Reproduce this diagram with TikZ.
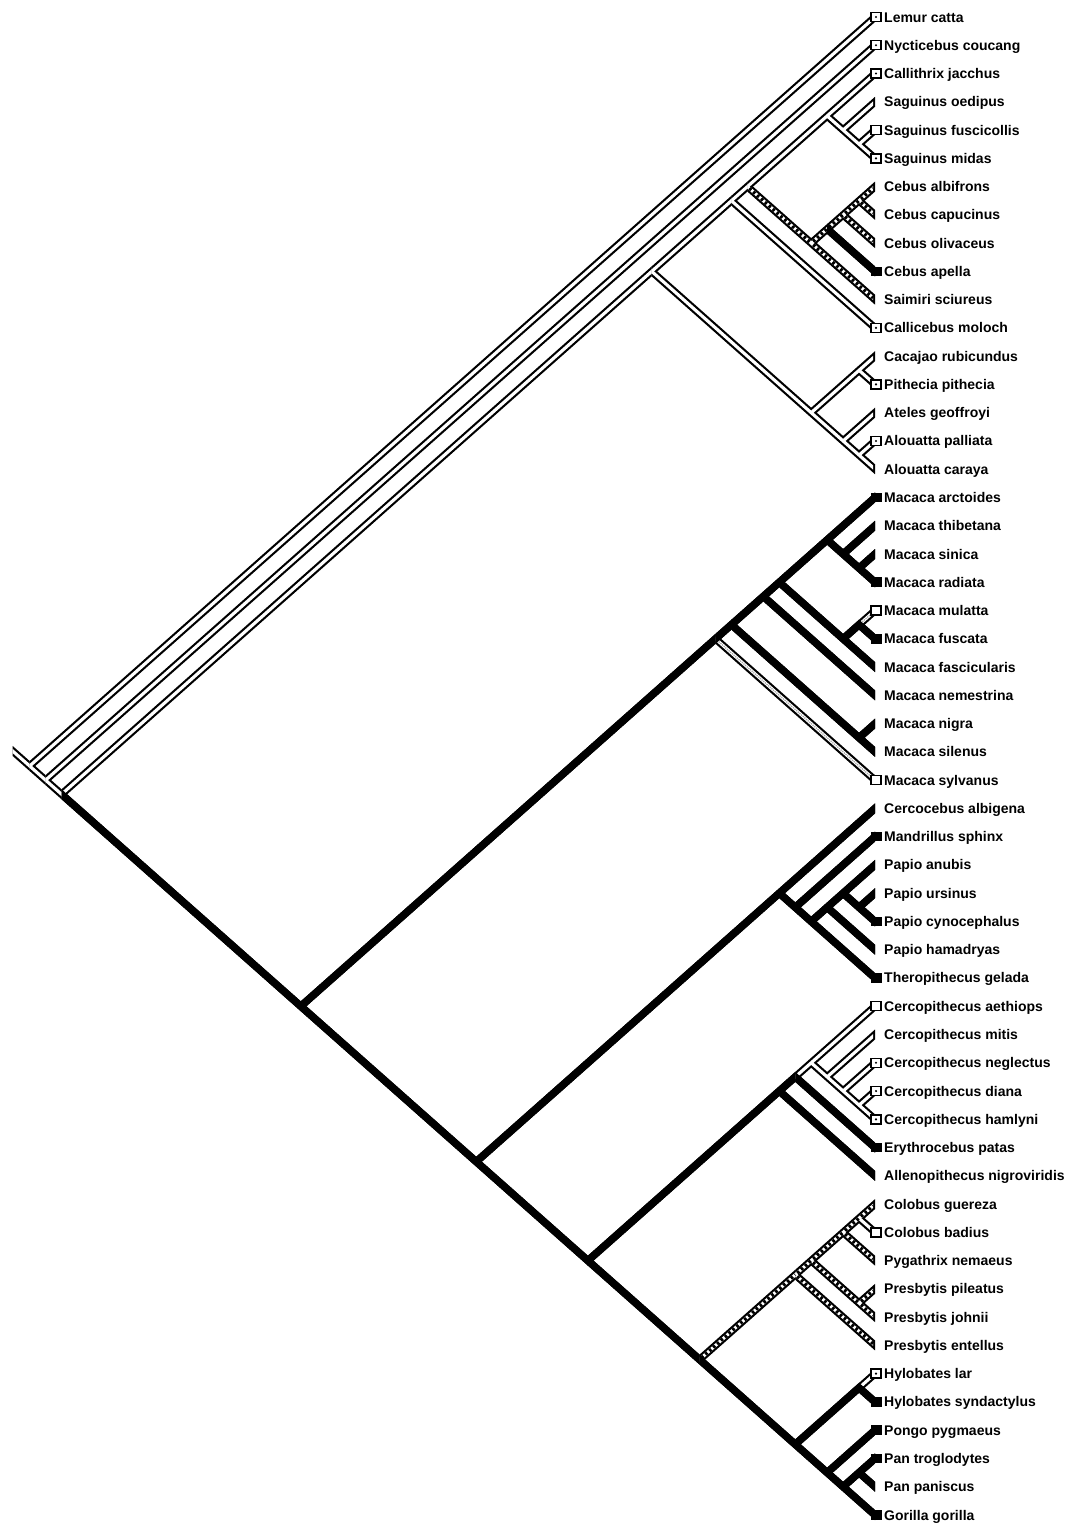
\documentclass[tikz,border=0pt]{standalone}
\usepackage{fontspec}
\setmainfont{Liberation Sans}
\usetikzlibrary{calc}

% band with vertical ends: #1 command, #2 from, #3 to, #4 half height
\newcommand\band[4]{#1 ($(#2)+(0,-#4)$) -- ($(#3)+(0,-#4)$) -- ($(#3)+(0,#4)$) -- ($(#2)+(0,#4)$) -- cycle;}
% clade node = crossing of the lines from its first and last leaf
\newcommand\clade[3]{\coordinate (#1) at ({875-28.264*((#3)-(#2))/1.772},{17+28.264*((#2)+(#3))/2});}
\newcommand\B[4]{\csname X#1\endcsname{#2}{#3}{#4}}
\newcommand\Xw{}\newcommand\Xb{}\newcommand\Xh{}\newcommand\Xg{}

\newcommand\treebranches{%
\B{w}{root}{rs}{0pt}
\B{w}{root}{t0}{2.6pt}
\B{w}{root}{n1}{0pt}
\B{w}{n1}{t1}{2.6pt}
\B{w}{n1}{anth}{0pt}
\B{w}{anth}{nwm}{0pt}
\B{b}{anth}{cat}{0pt}
\B{w}{nwm}{k2k11}{0pt}
\B{w}{nwm}{k12k16}{0pt}
\B{w}{k2k11}{k2k10}{0pt}
\B{w}{k2k11}{t11}{2.6pt}
\B{w}{k2k10}{k2k5}{0pt}
\B{h}{k2k10}{k6k10}{0pt}
\B{w}{k2k5}{t2}{2.6pt}
\B{w}{k2k5}{sag}{0pt}
\B{w}{sag}{t3}{2.6pt}
\B{w}{sag}{k4k5}{0pt}
\B{w}{k4k5}{t4}{2.6pt}
\B{w}{k4k5}{t5}{2.6pt}
\B{h}{k6k10}{ceb}{0pt}
\B{h}{k6k10}{t10}{2.6pt}
\B{h}{ceb}{k6k8}{0pt}
\B{b}{ceb}{t9}{2.6pt}
\B{h}{k6k8}{k6k7}{0pt}
\B{h}{k6k8}{t8}{2.6pt}
\B{h}{k6k7}{t6}{2.6pt}
\B{h}{k6k7}{t7}{2.6pt}
\B{w}{k12k16}{k12k13}{0pt}
\B{w}{k12k16}{k14k16}{0pt}
\B{w}{k12k13}{t12}{2.6pt}
\B{w}{k12k13}{t13}{2.6pt}
\B{w}{k14k16}{t14}{2.6pt}
\B{w}{k14k16}{k15k16}{0pt}
\B{w}{k15k16}{t15}{2.6pt}
\B{w}{k15k16}{t16}{2.6pt}
\B{b}{cat}{mac}{0pt}
\B{b}{cat}{k28k53}{0pt}
\B{b}{mac}{k17k26}{0pt}
\B{g}{mac}{t27}{2.6pt}
\B{b}{k17k26}{k17k24}{0pt}
\B{b}{k17k26}{k25k26}{0pt}
\B{b}{k25k26}{t25}{2.6pt}
\B{b}{k25k26}{t26}{2.6pt}
\B{b}{k17k24}{k17k23}{0pt}
\B{b}{k17k24}{t24}{2.6pt}
\B{b}{k17k23}{k17k20}{0pt}
\B{b}{k17k23}{k21k23}{0pt}
\B{b}{k17k20}{t17}{2.6pt}
\B{b}{k17k20}{k18k20}{0pt}
\B{b}{k18k20}{t18}{2.6pt}
\B{b}{k18k20}{k19k20}{0pt}
\B{b}{k19k20}{t19}{2.6pt}
\B{b}{k19k20}{t20}{2.6pt}
\B{b}{k21k23}{k21k22}{0pt}
\B{b}{k21k23}{t23}{2.6pt}
\B{g}{k21k22}{t21}{2.6pt}
\B{b}{k21k22}{t22}{2.6pt}
\B{b}{k28k53}{k28k34}{0pt}
\B{b}{k28k53}{k35k53}{0pt}
\B{b}{k28k34}{t28}{2.6pt}
\B{b}{k28k34}{k29k34}{0pt}
\B{b}{k29k34}{t29}{2.6pt}
\B{b}{k29k34}{k30k34}{0pt}
\B{b}{k30k34}{pap}{0pt}
\B{b}{k30k34}{t34}{2.6pt}
\B{b}{pap}{k30k32}{0pt}
\B{b}{pap}{t33}{2.6pt}
\B{b}{k30k32}{t30}{2.6pt}
\B{b}{k30k32}{k31k32}{0pt}
\B{b}{k31k32}{t31}{2.6pt}
\B{b}{k31k32}{t32}{2.6pt}
\B{b}{k35k53}{k35k41}{0pt}
\B{b}{k35k53}{k42k53}{0pt}
\B{b}{k35k41}{k35k40}{0pt}
\B{b}{k35k41}{t41}{2.6pt}
\B{w}{k35k40}{cer}{0pt}
\B{b}{k35k40}{t40}{2.6pt}
\B{w}{cer}{t35}{2.6pt}
\B{w}{cer}{k36k39}{0pt}
\B{w}{k36k39}{t36}{2.6pt}
\B{w}{k36k39}{k37k39}{0pt}
\B{w}{k37k39}{t37}{2.6pt}
\B{w}{k37k39}{k38k39}{0pt}
\B{w}{k38k39}{t38}{2.6pt}
\B{w}{k38k39}{t39}{2.6pt}
\B{h}{k42k53}{col}{0pt}
\B{b}{k42k53}{hom}{0pt}
\B{h}{col}{k42k46}{0pt}
\B{h}{col}{t47}{2.6pt}
\B{h}{k42k46}{k42k44}{0pt}
\B{h}{k42k46}{k45k46}{0pt}
\B{h}{k42k44}{k42k43}{0pt}
\B{h}{k42k44}{t44}{2.6pt}
\B{h}{k42k43}{t42}{2.6pt}
\B{w}{k42k43}{t43}{2.6pt}
\B{h}{k45k46}{t45}{2.6pt}
\B{h}{k45k46}{t46}{2.6pt}
\B{b}{hom}{hyl}{0pt}
\B{b}{hom}{k50k53}{0pt}
\B{w}{hyl}{t48}{2.6pt}
\B{b}{hyl}{t49}{2.6pt}
\B{b}{k50k53}{t50}{2.6pt}
\B{b}{k50k53}{k51k53}{0pt}
\B{b}{k51k53}{k51k52}{0pt}
\B{b}{k51k53}{t53}{2.6pt}
\B{b}{k51k52}{t51}{2.6pt}
\B{b}{k51k52}{t52}{2.6pt}
}

\begin{document}
\begin{tikzpicture}[x=1pt,y=-1pt,
  lab/.style={anchor=base west, inner sep=0pt, font=\fontsize{14}{16}\selectfont\bfseries},
  wbox/.style={draw=black, line width=1.4pt, fill=white}]
\fill[white] (0,0) rectangle (1081,1527);
\useasboundingbox (0,0) rectangle (1081,1527);

\foreach \i in {0,...,53} {\coordinate (t\i) at (875,{17+28.264*\i});}
\clade{root}{0}{53}
\clade{n1}{1}{53}
\clade{anth}{2}{53}
\clade{nwm}{2}{16}
\clade{k2k11}{2}{11}
\clade{k2k10}{2}{10}
\clade{k2k5}{2}{5}
\clade{sag}{3}{5}
\clade{k4k5}{4}{5}
\clade{k6k10}{6}{10}
\clade{ceb}{6}{9}
\clade{k6k8}{6}{8}
\clade{k6k7}{6}{7}
\clade{k12k16}{12}{16}
\clade{k12k13}{12}{13}
\clade{k14k16}{14}{16}
\clade{k15k16}{15}{16}
\clade{cat}{17}{53}
\clade{mac}{17}{27}
\clade{k17k26}{17}{26}
\clade{k17k24}{17}{24}
\clade{k17k23}{17}{23}
\clade{k17k20}{17}{20}
\clade{k18k20}{18}{20}
\clade{k19k20}{19}{20}
\clade{k21k23}{21}{23}
\clade{k21k22}{21}{22}
\clade{k25k26}{25}{26}
\clade{k28k53}{28}{53}
\clade{k28k34}{28}{34}
\clade{k29k34}{29}{34}
\clade{k30k34}{30}{34}
\clade{pap}{30}{33}
\clade{k30k32}{30}{32}
\clade{k31k32}{31}{32}
\clade{k35k53}{35}{53}
\clade{k35k41}{35}{41}
\clade{k35k40}{35}{40}
\clade{cer}{35}{39}
\clade{k36k39}{36}{39}
\clade{k37k39}{37}{39}
\clade{k38k39}{38}{39}
\clade{k42k53}{42}{53}
\clade{col}{42}{47}
\clade{k42k46}{42}{46}
\clade{k42k44}{42}{44}
\clade{k42k43}{42}{43}
\clade{k45k46}{45}{46}
\clade{hom}{48}{53}
\clade{hyl}{48}{49}
\clade{k50k53}{50}{53}
\clade{k51k53}{51}{53}
\clade{k51k52}{51}{52}
\coordinate (rs) at ($(root)+(-17,-15.06)$);

% pass 1: outer black bands
\begin{scope}
\renewcommand\Xw[3]{\band{\fill[black]}{#1}{#2}{5}}
\let\Xb\Xw \let\Xh\Xw \let\Xg\Xw
\treebranches
\end{scope}
% pass 2: hollow interiors
\begin{scope}
\renewcommand\Xw[3]{\coordinate (tmp) at ($(#2)!#3!(#1)$);\band{\fill[white]}{#1}{tmp}{2.1}}
\let\Xh\Xw \let\Xg\Xw
\renewcommand\Xb[3]{}
\treebranches
\end{scope}
% pass 3: hatching and grey
\begin{scope}
\renewcommand\Xw[3]{}\renewcommand\Xb[3]{}
\renewcommand\Xh[3]{\coordinate (tmp) at ($(#2)!#3!(#1)$);\draw[black, line width=3.2pt, dash pattern=on 2.6pt off 2.6pt, dash phase=2.6pt] (#1) -- (tmp);}
\renewcommand\Xg[3]{\coordinate (tmp) at ($(#2)!#3!(#1)$);\draw[gray!70, line width=1.3pt, dash pattern=on 1.2pt off 1pt] (#1) -- (tmp);}
\treebranches
\end{scope}
% pass 4: black bands on top
\begin{scope}
\renewcommand\Xw[3]{}\renewcommand\Xh[3]{}\renewcommand\Xg[3]{}
\renewcommand\Xb[3]{\band{\fill[black]}{#1}{#2}{5}}
\treebranches
\end{scope}

% terminal boxes
\foreach \i in {0,1,2,4,5,11,13,15,21,27,35,37,38,39,43,48}
  {\draw[wbox] ($(t\i)+(-4,-4.5)$) rectangle ($(t\i)+(6,4.5)$);}
\foreach \i in {0,1,2,5,11,13,15,37,38,39,48}
  {\fill ($(t\i)+(1,0)$) circle (1.2);}
\foreach \i in {9,17,20,22,29,32,34,40,49,50,51,53}
  {\fill ($(t\i)+(-4,-4.8)$) rectangle ($(t\i)+(6.5,4.8)$);}

% labels
\foreach \i/\n in {0/Lemur catta,1/Nycticebus coucang,2/Callithrix jacchus,3/Saguinus oedipus,
  4/Saguinus fuscicollis,5/Saguinus midas,6/Cebus albifrons,7/Cebus capucinus,8/Cebus olivaceus,
  9/Cebus apella,10/Saimiri sciureus,11/Callicebus moloch,12/Cacajao rubicundus,13/Pithecia pithecia,
  14/Ateles geoffroyi,15/Alouatta palliata,16/Alouatta caraya,17/Macaca arctoides,18/Macaca thibetana,
  19/Macaca sinica,20/Macaca radiata,21/Macaca mulatta,22/Macaca fuscata,23/Macaca fascicularis,
  24/Macaca nemestrina,25/Macaca nigra,26/Macaca silenus,27/Macaca sylvanus,28/Cercocebus albigena,
  29/Mandrillus sphinx,30/Papio anubis,31/Papio ursinus,32/Papio cynocephalus,33/Papio hamadryas,
  34/Theropithecus gelada,35/Cercopithecus aethiops,36/Cercopithecus mitis,37/Cercopithecus neglectus,
  38/Cercopithecus diana,39/Cercopithecus hamlyni,40/Erythrocebus patas,41/Allenopithecus nigroviridis,
  42/Colobus guereza,43/Colobus badius,44/Pygathrix nemaeus,45/Presbytis pileatus,46/Presbytis johnii,
  47/Presbytis entellus,48/Hylobates lar,49/Hylobates syndactylus,50/Pongo pygmaeus,
  51/Pan troglodytes,52/Pan paniscus,53/Gorilla gorilla}
  {\node[lab] (lab\i) at ($(t\i)+(9,5)$) {\n};}
\end{tikzpicture}
\end{document}
